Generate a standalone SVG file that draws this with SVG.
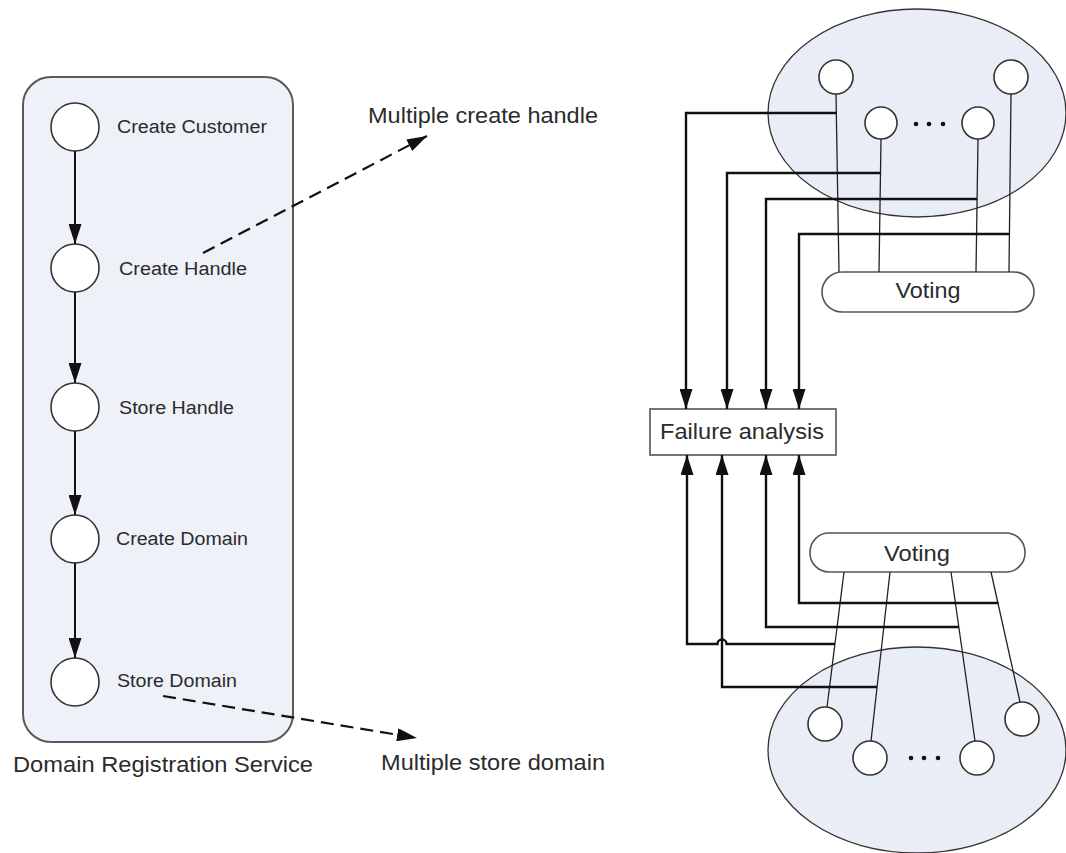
<svg xmlns="http://www.w3.org/2000/svg" width="1066" height="853" viewBox="0 0 1066 853">
  <defs>
    <style>
      .lbl { font-family: "Liberation Sans", Arial, sans-serif; fill: #2b2b2b; }
      .small { font-size: 18px; }
      .big { font-size: 22px; }
      .state { fill: #ffffff; stroke: #333333; stroke-width: 1.6; }
      .panel { fill: #eef1f8; stroke: #5a5a5a; stroke-width: 2; }
      .cluster { fill: #e9edf5; stroke: #333333; stroke-width: 1.3; }
      .box { fill: #ffffff; stroke: #555555; stroke-width: 1.6; }
      .flow { fill: none; stroke: #111111; stroke-width: 2; }
      .dash { fill: none; stroke: #111111; stroke-width: 2.2; stroke-dasharray: 13 7; }
      .wire { fill: none; stroke: #222222; stroke-width: 1.3; }
      .route { fill: none; stroke: #111111; stroke-width: 2.4; }
      .dot { fill: #111111; }
    </style>
    <marker id="arrow" viewBox="0 0 20 13" refX="20" refY="6.5" markerWidth="20" markerHeight="13" markerUnits="userSpaceOnUse" orient="auto">
      <path d="M0,0 L20,6.5 L0,13 z" fill="#111111"/>
    </marker>
  </defs>

  <rect width="1066" height="853" fill="#ffffff"/>

  <!-- Service container -->
  <g id="service">
    <rect class="panel" x="23" y="77" width="270" height="665" rx="28" ry="28"/>
    <text class="lbl big" x="13" y="772" textLength="300" lengthAdjust="spacingAndGlyphs">Domain Registration Service</text>
  </g>

  <!-- Workflow steps -->
  <g id="create-customer">
    <circle class="state" cx="75" cy="127" r="24"/>
    <text class="lbl small" x="117" y="133" textLength="150" lengthAdjust="spacingAndGlyphs">Create Customer</text>
  </g>
  <g id="create-handle">
    <circle class="state" cx="75" cy="268" r="24"/>
    <text class="lbl small" x="119" y="275" textLength="128" lengthAdjust="spacingAndGlyphs">Create Handle</text>
  </g>
  <g id="store-handle">
    <circle class="state" cx="75" cy="407" r="24"/>
    <text class="lbl small" x="119" y="414" textLength="115" lengthAdjust="spacingAndGlyphs">Store Handle</text>
  </g>
  <g id="create-domain">
    <circle class="state" cx="75" cy="539" r="24"/>
    <text class="lbl small" x="116" y="545" textLength="132" lengthAdjust="spacingAndGlyphs">Create Domain</text>
  </g>
  <g id="store-domain">
    <circle class="state" cx="75" cy="682" r="24"/>
    <text class="lbl small" x="117" y="687" textLength="120" lengthAdjust="spacingAndGlyphs">Store Domain</text>
  </g>

  <!-- Side notes -->
  <g id="multiple-create-handle">
    <text class="lbl big" x="368" y="123" textLength="230" lengthAdjust="spacingAndGlyphs">Multiple create handle</text>
  </g>
  <g id="multiple-store-domain">
    <text class="lbl big" x="381" y="770" textLength="224" lengthAdjust="spacingAndGlyphs">Multiple store domain</text>
  </g>

  <!-- Upper replica cluster -->
  <g id="upper-cluster">
    <ellipse class="cluster" cx="917" cy="113" rx="149" ry="104"/>
    <circle class="state" cx="836" cy="77" r="17"/>
    <circle class="state" cx="881" cy="123" r="16"/>
    <circle class="state" cx="978" cy="123" r="16"/>
    <circle class="state" cx="1011" cy="77" r="17"/>
    <circle class="dot" cx="916" cy="124" r="2.3"/>
    <circle class="dot" cx="929" cy="124" r="2.3"/>
    <circle class="dot" cx="943" cy="124" r="2.3"/>
  </g>

  <!-- Lower replica cluster -->
  <g id="lower-cluster">
    <ellipse class="cluster" cx="917" cy="750" rx="149" ry="103"/>
    <circle class="state" cx="825" cy="724" r="17"/>
    <circle class="state" cx="870" cy="758" r="17"/>
    <circle class="state" cx="977" cy="758" r="17"/>
    <circle class="state" cx="1022" cy="719" r="17"/>
    <circle class="dot" cx="911" cy="758" r="2.3"/>
    <circle class="dot" cx="924" cy="758" r="2.3"/>
    <circle class="dot" cx="938" cy="758" r="2.3"/>
  </g>

  <g id="voting-upper">
    <rect class="box" x="822" y="272" width="212" height="40" rx="20" ry="20"/>
    <text class="lbl big" x="928" y="298" text-anchor="middle" textLength="65" lengthAdjust="spacingAndGlyphs">Voting</text>
  </g>
  <g id="voting-lower">
    <rect class="box" x="810" y="533" width="215" height="39" rx="19" ry="19"/>
    <text class="lbl big" x="917" y="561" text-anchor="middle" textLength="66" lengthAdjust="spacingAndGlyphs">Voting</text>
  </g>

  <g id="failure-analysis">
    <rect class="box" x="650" y="409" width="186" height="46"/>
    <text class="lbl big" x="742" y="439" text-anchor="middle" textLength="164" lengthAdjust="spacingAndGlyphs">Failure analysis</text>
  </g>

  <!-- Connectors -->
  <g id="connectors">
    <!-- workflow sequence -->
    <line class="flow" x1="75" y1="151" x2="75" y2="244" marker-end="url(#arrow)"/>
    <line class="flow" x1="75" y1="292" x2="75" y2="383" marker-end="url(#arrow)"/>
    <line class="flow" x1="75" y1="431" x2="75" y2="515" marker-end="url(#arrow)"/>
    <line class="flow" x1="75" y1="563" x2="75" y2="658" marker-end="url(#arrow)"/>

    <!-- replication notes -->
    <line class="dash" x1="203" y1="253" x2="427" y2="136" marker-end="url(#arrow)"/>
    <line class="dash" x1="163" y1="696" x2="417" y2="738" marker-end="url(#arrow)"/>

    <!-- upper replicas to voting -->
    <line class="wire" x1="836" y1="94" x2="839" y2="272"/>
    <line class="wire" x1="881" y1="139" x2="879" y2="272"/>
    <line class="wire" x1="978" y1="139" x2="976" y2="272"/>
    <line class="wire" x1="1011" y1="94" x2="1009" y2="272"/>

    <!-- lower replicas to voting -->
    <line class="wire" x1="844" y1="572" x2="827" y2="707"/>
    <line class="wire" x1="890" y1="572" x2="871" y2="741"/>
    <line class="wire" x1="951" y1="572" x2="975" y2="741"/>
    <line class="wire" x1="991" y1="572" x2="1020" y2="702"/>

    <!-- upper replicas to failure analysis -->
    <path class="route" d="M836.5,113 H686 V409" marker-end="url(#arrow)"/>
    <path class="route" d="M880.5,173 H727 V409" marker-end="url(#arrow)"/>
    <path class="route" d="M977,199 H766 V409" marker-end="url(#arrow)"/>
    <path class="route" d="M1009.5,234 H799 V409" marker-end="url(#arrow)"/>

    <!-- lower replicas to failure analysis -->
    <path class="route" d="M835,644 H726.5 A4.5,4.5 0 0 0 717.5,644 H687 V455" marker-end="url(#arrow)"/>
    <path class="route" d="M877,687 H722 V455" marker-end="url(#arrow)"/>
    <path class="route" d="M959,627 H766 V455" marker-end="url(#arrow)"/>
    <path class="route" d="M998.5,603 H799 V455" marker-end="url(#arrow)"/>
  </g>
</svg>
